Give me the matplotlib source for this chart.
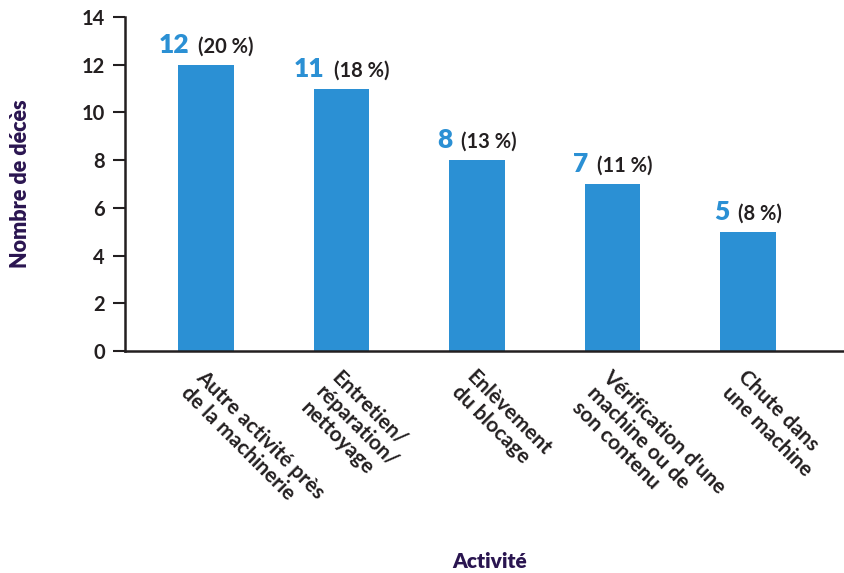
import matplotlib
matplotlib.use('Agg')
import matplotlib.pyplot as plt

# data
categories = ["Autre activité près\nde la machinerie", "Entretien/\nréparation/\nnettoyage",
              "Enlèvement\ndu blocage", "Vérification d'une\nmachine ou de\nson contenu",
              "Chute dans\nune machine"]
deaths = [12, 11, 8, 7, 5]
percents = [20, 18, 13, 11, 8]
yticks = [0, 2, 4, 6, 8, 10, 12, 14]

BLUE = '#2b90d4'
DARK = '#231f20'
PURPLE = '#2a1550'
plt.rcParams['font.family'] = ['Lato', 'DejaVu Sans']

fig = plt.figure(figsize=(8.44, 5.73), dpi=100)
ax = fig.add_axes([0.148, 0.3874, 0.852, 0.5829])

x = list(range(len(deaths)))
ax.bar(x, deaths, width=0.41, color=BLUE, zorder=2)
ax.set_xlim(-0.6, 4.71)
ax.set_ylim(0, 14)
ax.set_yticks(yticks)
ax.set_xticks([])
ax.tick_params(axis='y', direction='out', length=8.5, width=1.5, color=DARK,
               labelsize=14.5, labelcolor=DARK, pad=6)
for lab in ax.get_yticklabels():
    lab.set_fontweight('bold')
for s in ['top', 'right']:
    ax.spines[s].set_visible(False)
for s in ['left', 'bottom']:
    ax.spines[s].set_linewidth(1.8)
    ax.spines[s].set_color(DARK)

# category labels, rotated
for i, c in enumerate(categories):
    ax.annotate(c, xy=(i, 0), xytext=(0, -16), textcoords='offset pixels',
                rotation=-45, rotation_mode='anchor', ha='left', va='top',
                fontsize=15, fontweight='bold', color=DARK, linespacing=1.1)

ax.set_ylabel('Nombre de décès', fontsize=15.5, fontweight='heavy', color=PURPLE, labelpad=0)
ax.yaxis.set_label_coords(-0.13, 0.5)
fig.text(0.58, 0.004, 'Activité', ha='center', va='bottom', fontsize=15,
         fontweight='heavy', color=PURPLE)

# value labels: bold blue count + percentage, centred together over the bar
fig.canvas.draw()
r = fig.canvas.get_renderer()
gap = 9
for i, (v, p) in enumerate(zip(deaths, percents)):
    t1 = fig.text(0, 0, str(v), fontsize=19, fontweight='heavy', color=BLUE)
    t2 = fig.text(0, 0, f'({p} %)', fontsize=14.5, fontweight='bold', color=DARK)
    w1 = t1.get_window_extent(r).width
    w2 = t2.get_window_extent(r).width
    t1.remove()
    t2.remove()
    start = -(w1 + gap + w2) / 2
    ax.annotate(str(v), xy=(i, v), xytext=(start, 12), textcoords='offset pixels',
                ha='left', va='baseline', fontsize=19, fontweight='heavy', color=BLUE)
    ax.annotate(f'({p} %)', xy=(i, v), xytext=(start + w1 + gap, 12), textcoords='offset pixels',
                ha='left', va='baseline', fontsize=14.5, fontweight='bold', color=DARK)

fig.savefig('out.png', dpi=100)
